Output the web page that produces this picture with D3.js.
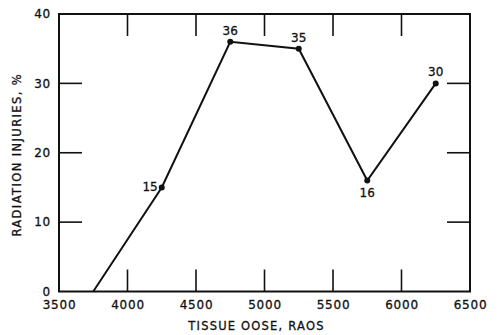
<!DOCTYPE html>
<html><head><meta charset="utf-8">
<script src="https://cdn.jsdelivr.net/npm/d3@7"></script>
<style>body{margin:0;background:#fff}svg{display:block}text{font-family:"DejaVu Sans",sans-serif;fill:#111}</style>
</head><body><svg id="c" width="498" height="335"></svg>
<script>
const doses = [3750, 4250, 4750, 5250, 5750, 6250];
const injuries = [0, 15, 36, 35, 16, 30];
const pointLabels = ["", "15", "36", "35", "16", "30"];
const labelPos = ["none", "left", "above", "above", "below", "above"];
const xTicks = [3500, 4000, 4500, 5000, 5500, 6000, 6500];
const yTicks = [0, 10, 20, 30, 40];
const xTitle = "TISSUE OOSE, RAOS";
const yTitle = "RADIATION INJURIES, %";

const svg = d3.select("#c");
const L = 59, R = 470, T = 14, B = 291.5;
const x = d3.scaleLinear().domain([3500, 6500]).range([L, R]);
const y = d3.scaleLinear().domain([0, 40]).range([B, T]);
const ink = "#111";

svg.append("rect").attr("x", L).attr("y", T).attr("width", R - L).attr("height", B - T)
  .attr("fill", "none").attr("stroke", ink).attr("stroke-width", 2);

const styleText = g => g.selectAll("text").attr("font-size", 12).attr("letter-spacing", 0.8)
  .attr("font-family", "'DejaVu Sans',sans-serif").attr("fill", ink).attr("stroke", ink).attr("stroke-width", 0.3);
const tl = 22;
svg.append("g").attr("transform", `translate(0,${B})`)
  .call(d3.axisBottom(x).tickValues(xTicks).tickSize(0).tickPadding(9).tickFormat(d3.format("d")))
  .call(g => { g.select(".domain").remove(); styleText(g); });
svg.append("g").attr("transform", `translate(${L},0)`)
  .call(d3.axisLeft(y).tickValues(yTicks).tickSize(0).tickPadding(8))
  .call(g => { g.select(".domain").remove(); styleText(g); });

const inner = xTicks.slice(1, -1), innerY = yTicks.slice(1, -1);
const tk = svg.append("g").attr("stroke", ink).attr("stroke-width", 1.6);
inner.forEach(v => {
  tk.append("line").attr("x1", x(v)).attr("x2", x(v)).attr("y1", B).attr("y2", B - tl);
  tk.append("line").attr("x1", x(v)).attr("x2", x(v)).attr("y1", T).attr("y2", T + tl);
});
innerY.forEach(v => {
  tk.append("line").attr("x1", L).attr("x2", L + 23).attr("y1", y(v)).attr("y2", y(v));
  tk.append("line").attr("x1", R).attr("x2", R - 23).attr("y1", y(v)).attr("y2", y(v));
});

const data = doses.map((d, i) => ({d, v: injuries[i], lab: pointLabels[i], pos: labelPos[i]}));
svg.append("path").datum(data)
  .attr("d", d3.line().x(p => x(p.d)).y(p => y(p.v)))
  .attr("fill", "none").attr("stroke", ink).attr("stroke-width", 2);
svg.selectAll("circle.pt").data(data.filter(p => p.pos !== "none")).join("circle")
  .attr("cx", p => x(p.d)).attr("cy", p => y(p.v)).attr("r", 3).attr("fill", ink);
svg.selectAll("text.pl").data(data.filter(p => p.pos !== "none")).join("text")
  .attr("font-size", 12).attr("stroke", ink).attr("stroke-width", 0.3)
  .attr("x", p => p.pos === "left" ? x(p.d) - 4 : x(p.d))
  .attr("y", p => p.pos === "above" ? y(p.v) - 7 : p.pos === "below" ? y(p.v) + 16 : y(p.v) + 4)
  .attr("text-anchor", p => p.pos === "left" ? "end" : "middle")
  .text(p => p.lab);

svg.append("text").attr("x", (L + R) / 2 - 8).attr("y", 330).attr("text-anchor", "middle")
  .attr("font-size", 11.5).attr("letter-spacing", 1.2).attr("stroke", ink).attr("stroke-width", 0.3).text(xTitle);
svg.append("text").attr("transform", `translate(21,${(T + B) / 2 + 2}) rotate(-90)`)
  .attr("text-anchor", "middle").attr("font-size", 11.5).attr("letter-spacing", 1.4)
  .attr("stroke", ink).attr("stroke-width", 0.3).text(yTitle);
</script></body></html>
